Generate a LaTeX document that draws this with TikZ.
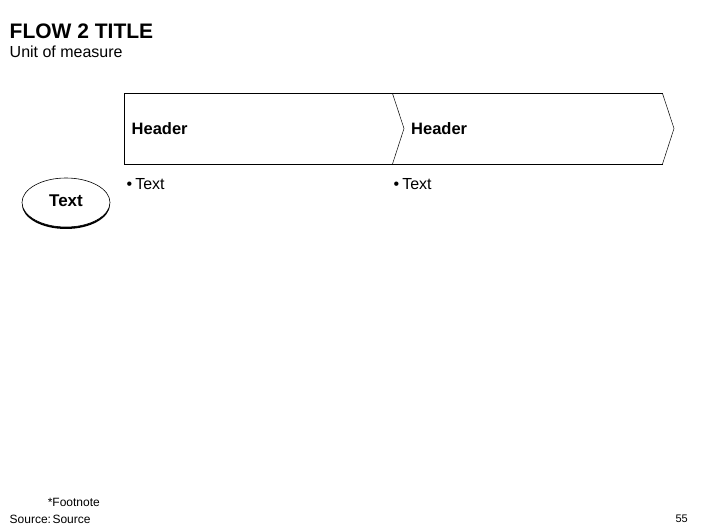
\documentclass[tikz,border=0pt]{standalone}
\usepackage{fontspec}
\setmainfont{Liberation Sans}
\usetikzlibrary{shapes.geometric}
\tikzset{
  lbl/.style={inner sep=0pt, anchor=west, font=\fontsize{16}{18}\selectfont},
  hdr/.style={inner sep=0pt, anchor=west, font=\fontsize{16.5}{18}\selectfont\bfseries},
  chev/.style={line width=0.9pt, line join=miter},
  notch/.style={line width=0.5pt},
  small/.style={inner sep=0pt, font=\fontsize{12}{13}\selectfont}
}
\begin{document}
\begin{tikzpicture}[x=1pt,y=-1pt]
\useasboundingbox[fill=white] (0,0) rectangle (706,529);
% titles
\node[inner sep=0pt, anchor=west, font=\fontsize{21}{22}\selectfont\bfseries] (title) at (9.5,31.5) {FLOW 2 TITLE};
\node[lbl, font=\fontsize{16}{18}\selectfont] (unit) at (9.5,51.5) {Unit of measure};
% chevron corners
\coordinate (a1) at (124,93.5);
\coordinate (a2) at (392.5,93.5);
\coordinate (a3) at (404,128.5);
\coordinate (a4) at (392.5,164);
\coordinate (a5) at (124,164);
\coordinate (b2) at (662.5,93.5);
\coordinate (b3) at (674,128.5);
\coordinate (b4) at (662.5,164);
% outlines
\draw[chev] (a2) -- (a1) -- (a5) -- (a4);
\draw[chev] (a2) -- (b2);
\draw[chev] (a4) -- (b4);
\draw[notch] (a2) -- (a3) -- (a4);
\draw[notch] (b2) -- (b3) -- (b4);
% headers
\node[hdr] (h1) at (131.5,129) {Header};
\node[hdr] (h2) at (411,129) {Header};
% bullets
\node[lbl] (t1) at (126.5,184) {\textbullet\hspace{3pt}Text};
\node[lbl] (t2) at (393.5,184) {\textbullet\hspace{3pt}Text};
% ellipse
\fill[black] (66,204.5) ellipse [x radius=44, y radius=24.5];
\draw[fill=white, line width=0.6pt] (66,202.5) ellipse [x radius=44, y radius=24.5];
\node[inner sep=0pt, font=\fontsize{17}{18}\selectfont\bfseries] (e) at (66,201) {Text};
% footer
\node[small, anchor=east] (fn) at (100,502.5) {*Footnote};
\node[small, anchor=west] (src) at (9.5,519.5) {Source:\hspace{1.5pt}Source};
\node[small, anchor=east, font=\fontsize{11}{12}\selectfont] (pg) at (688,519) {55};
\end{tikzpicture}
\end{document}
